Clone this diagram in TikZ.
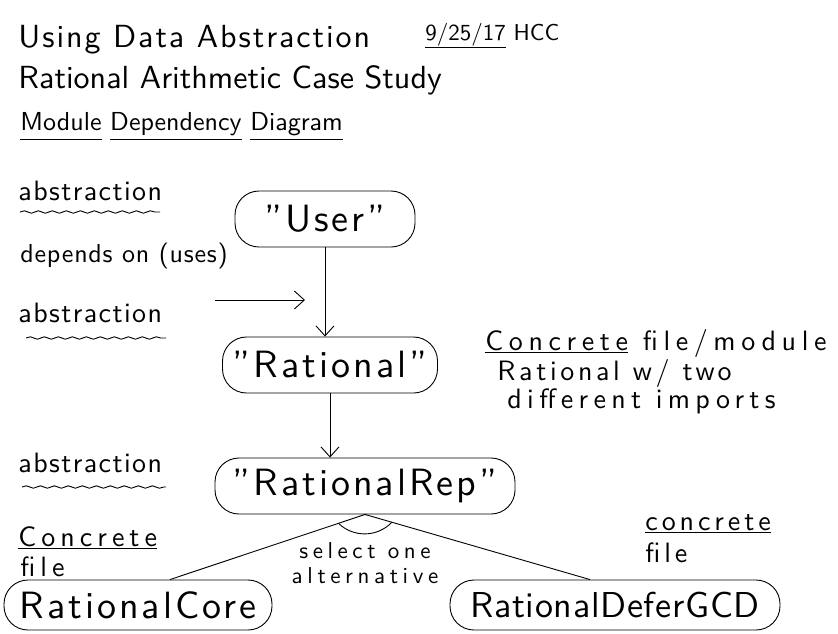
\documentclass[tikz,border=0pt]{standalone}
\usepackage{fontspec}
\setsansfont{lmsans10-regular.otf}
\usetikzlibrary{calc,arrows.meta,decorations.pathmorphing}
\newcommand\hand[2]{\sffamily\fontsize{#1}{#1}\selectfont\addfontfeature{LetterSpace=#2}}
\begin{document}
\begin{tikzpicture}[x=1pt,y=1pt,line width=0.9pt,
    module/.style={draw,rounded corners=24pt,minimum height=56pt,inner xsep=4pt,font=\hand{38}{8}},
    heading/.style={anchor=base west,inner sep=0pt,font=\hand{32}{0}},
    note/.style={anchor=base west,inner sep=0pt,font=\hand{28}{5}},
    wavy/.style={decorate,decoration={snake,amplitude=1.2pt,segment length=14pt}},
    uses/.style={-{Straight Barb[length=10pt,width=18pt]}}]
    \useasboundingbox (0,0) rectangle (838,-633);
    \node[heading,font=\hand{32}{6}] (title) at (18,-47) {Using Data Abstraction};
    \node[heading,font=\hand{23}{0}] (date) at (425,-40) {\underline{9/25/17} HCC};
    \node[heading] (case) at (18,-88) {Rational Arithmetic Case Study};
    \node[heading,font=\hand{26}{0}] (mdd) at (20,-130) {\underline{\strut Module} \underline{\strut Dependency} \underline{\strut Diagram}};

    \node[module,minimum width=180pt] (user) at (325,-219) {"User"};
    \node[module,minimum width=215pt] (rational) at (330,-365) {"Rational"};
    \node[module,minimum width=300pt] (rep) at (365,-486) {"RationalRep"};
    \node[module,minimum width=268pt,minimum height=50pt] (core) at (138,-605) {RationalCore};
    \node[module,minimum width=330pt,minimum height=50pt,font=\hand{36}{2}] (defer) at (615,-605) {RationalDeferGCD};

    \node[note] (abs1) at (18,-200) {abstraction};
    \node[note] (abs2) at (18,-322) {abstraction};
    \node[note] (abs3) at (18,-472) {abstraction};
    \draw[wavy] (abs1.base west) ++(2,-12) -- ++(140,0);
    \draw[wavy] (abs2.base west) ++(8,-16) -- ++(140,0);
    \draw[wavy] (abs3.base west) ++(4,-15) -- ++(144,0);

    \node[note,font=\hand{26}{3}] (depends) at (20,-262) {depends on (uses)};
    \coordinate (from) at (215,-300);
    \coordinate (to) at (305,-300);
    \draw[uses] (from) -- (to);

    \draw[uses] (user.south) -- (user.south |- rational.north);
    \draw[uses] (rational.south) -- (rational.south |- rep.north);

    \node[note,font=\hand{28}{20}] (concrete) at (485,-350) {\underline{Concrete} file/module};
    \node[note,font=\hand{28}{13}] (imports1) at (497,-380) {Rational w/ two};
    \node[note,font=\hand{28}{19}] (imports2) at (507,-408) {different imports};

    \coordinate (coretop) at ([xshift=32pt]core.north);
    \coordinate (defertop) at ([xshift=-25pt]defer.north);
    \draw (rep.south) -- (coretop);
    \draw (rep.south) -- (defertop);
    \coordinate (arcl) at ($(rep.south)!28pt!(coretop)$);
    \coordinate (arcr) at ($(rep.south)!28pt!(defertop)$);
    \draw (arcl) to[bend right=45] (arcr);

    \node[font=\hand{23}{20},inner sep=0pt] (select) at (365,-551) {select one};
    \node[font=\hand{23}{20},inner sep=0pt] (alt) at (365,-576) {alternative};

    \node[note,font=\hand{28}{18}] (leftc) at (18,-546) {\underline{Concrete}};
    \node[note,font=\hand{28}{18}] (leftf) at (20,-576) {file};
    \node[note,font=\hand{28}{14}] (rightc) at (645,-530) {\underline{concrete}};
    \node[note,font=\hand{28}{14}] (rightf) at (645,-562) {file};
\end{tikzpicture}
\end{document}
